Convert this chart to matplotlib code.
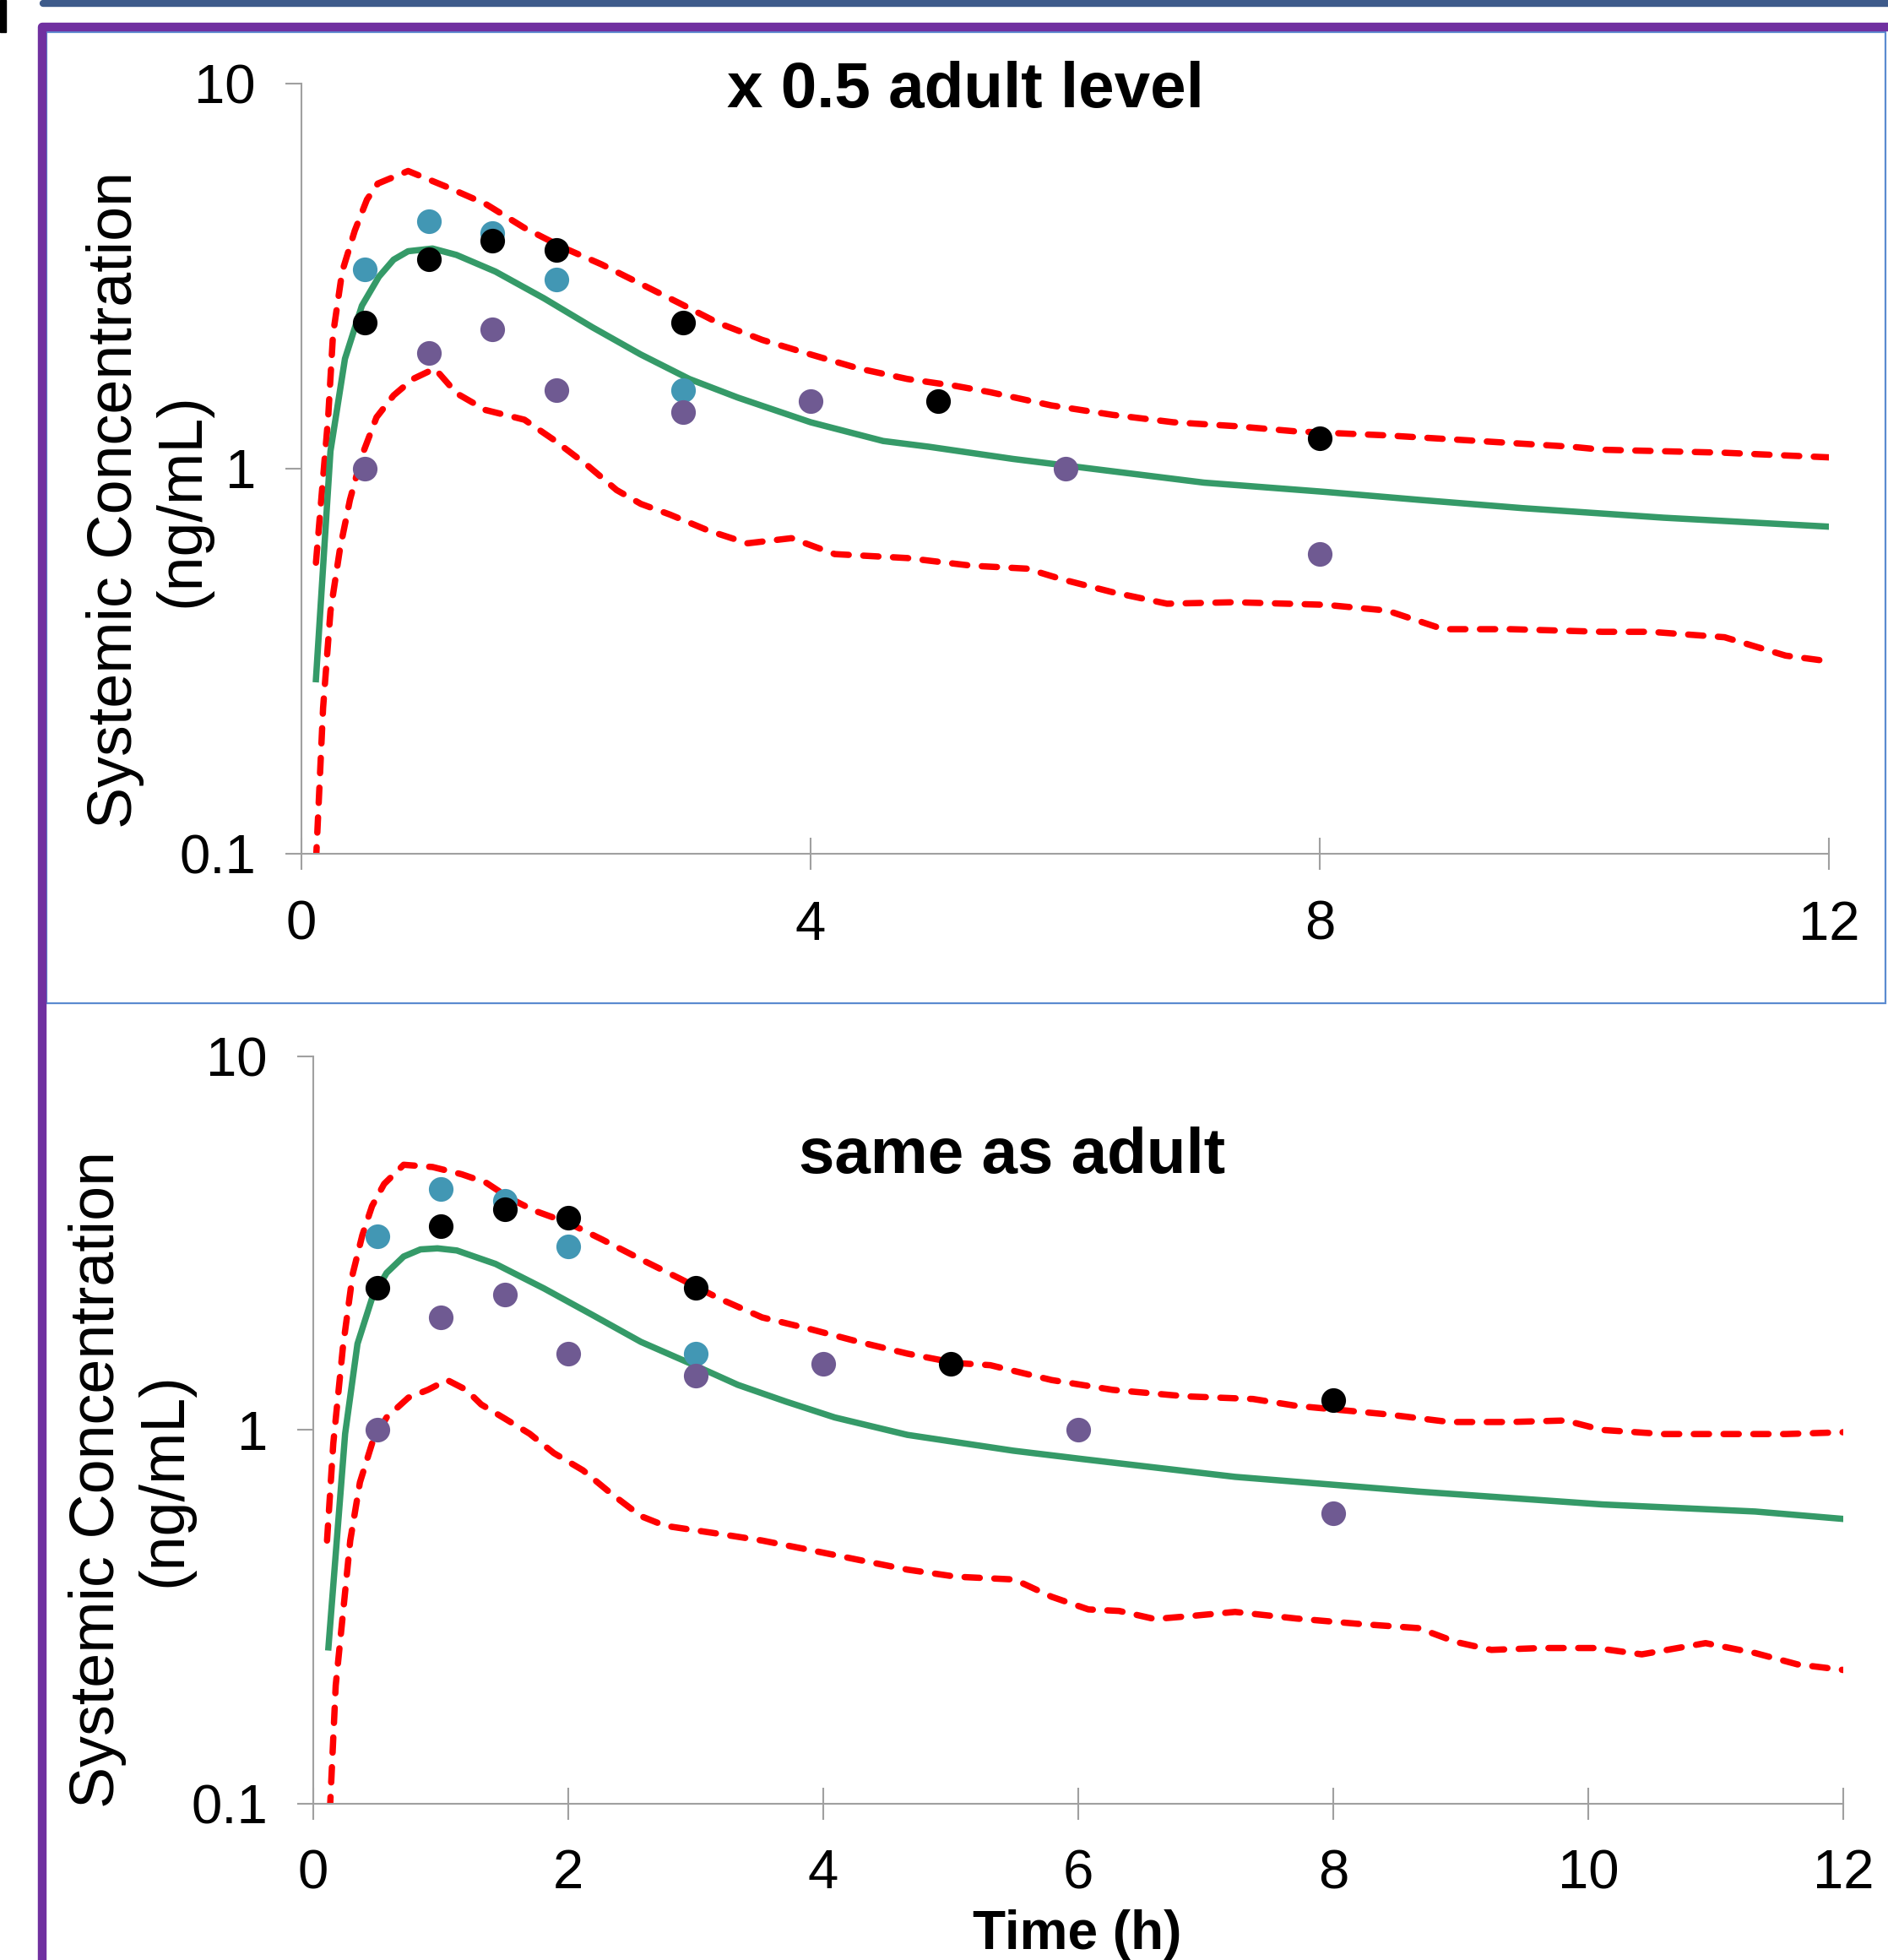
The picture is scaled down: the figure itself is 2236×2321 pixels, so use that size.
import matplotlib
matplotlib.use("Agg")
import matplotlib.pyplot as plt
from matplotlib.patches import Rectangle
from matplotlib.lines import Line2D

plt.rcParams['font.family'] = ['Liberation Sans', 'DejaVu Sans']

# ---------------- observed data (same in both panels) ----------------
teal_t = [0.5, 1, 1.5, 2, 3]
teal_c = [3.3, 4.4, 4.1, 3.1, 1.6]
black_t = [0.5, 1, 1.5, 2, 3, 5, 8]
black_c = [2.4, 3.5, 3.9, 3.7, 2.4, 1.5, 1.2]
purple_t = [0.5, 1, 1.5, 2, 3, 4, 6, 8]
purple_c = [1.0, 2.0, 2.3, 1.6, 1.4, 1.5, 1.0, 0.6]

# ---------------- top panel: x 0.5 adult level ----------------
top_mean_t = [0.114, 0.228, 0.342, 0.475, 0.608, 0.724, 0.838, 1.03, 1.218, 1.524, 1.905,
              2.285, 2.665, 3.047, 3.428, 4.0, 4.57, 4.93, 5.59, 7.09, 8.05, 8.78, 9.59,
              10.70, 12.0]
top_mean_c = [0.284, 1.11, 1.93, 2.65, 3.15, 3.49, 3.67, 3.73, 3.59, 3.25, 2.77,
              2.33, 1.98, 1.71, 1.53, 1.32, 1.18, 1.14, 1.06, 0.92, 0.87, 0.83, 0.79,
              0.746, 0.707]
top_hi_t = [0.114, 0.21, 0.248, 0.32, 0.419, 0.515, 0.60, 0.838, 1.143, 1.447, 1.752,
            2.057, 2.36, 2.665, 2.97, 3.275, 3.62, 4.0, 4.38, 4.76, 5.14, 5.41, 5.89,
            6.37, 6.85, 7.33, 7.81, 8.53, 9.25, 9.98, 10.22, 11.18, 12.0]
top_hi_c = [0.57, 1.36, 2.23, 3.25, 4.15, 5.0, 5.5, 5.93, 5.39, 4.87, 4.22,
            3.75, 3.39, 3.02, 2.69, 2.39, 2.16, 1.98, 1.82, 1.71, 1.64, 1.58, 1.46,
            1.38, 1.32, 1.29, 1.25, 1.22, 1.18, 1.14, 1.12, 1.10, 1.07]
top_lo_t = [0.114, 0.17, 0.228, 0.303, 0.381, 0.475, 0.59, 0.724, 0.876, 1.048, 1.218,
            1.447, 1.752, 1.98, 2.247, 2.476, 2.667, 2.895, 3.2, 3.505, 3.85, 4.19,
            4.76, 5.26, 5.70, 5.985, 6.37, 6.80, 7.33, 8.05, 8.53, 8.97, 9.50, 10.22,
            10.60, 11.18, 11.66, 12.0]
top_lo_c = [0.095, 0.239, 0.426, 0.62, 0.83, 1.08, 1.36, 1.55, 1.71, 1.82, 1.57,
            1.42, 1.34, 1.19, 1.02, 0.88, 0.81, 0.76, 0.69, 0.64, 0.66, 0.60,
            0.586, 0.56, 0.55, 0.515, 0.478, 0.446, 0.45, 0.443, 0.428, 0.383, 0.383, 0.377,
            0.377, 0.365, 0.327, 0.316]

# ---------------- bottom panel: same as adult ----------------
bot_mean_t = [0.119, 0.25, 0.347, 0.461, 0.575, 0.709, 0.841, 0.974, 1.126, 1.43, 1.81,
              2.19, 2.57, 2.95, 3.33, 3.71, 4.09, 4.66, 5.49, 6.03, 7.23, 8.67, 10.11,
              11.31, 12.0]
bot_mean_c = [0.262, 0.977, 1.70, 2.25, 2.63, 2.91, 3.04, 3.06, 3.02, 2.78, 2.39,
              2.03, 1.72, 1.51, 1.32, 1.19, 1.08, 0.97, 0.88, 0.836, 0.749, 0.684, 0.632,
              0.605, 0.578]
bot_hi_t = [0.108, 0.157, 0.233, 0.31, 0.385, 0.461, 0.556, 0.709, 0.936, 1.164, 1.354,
            1.544, 1.734, 2.0, 2.267, 2.57, 2.875, 3.18, 3.52, 3.90, 4.28, 4.66, 5.04,
            5.31, 5.79, 6.27, 6.84, 7.37, 7.71, 8.43, 8.91, 9.39, 9.82, 10.11, 10.59,
            11.16, 11.55, 12.0]
bot_hi_c = [0.506, 0.92, 1.67, 2.62, 3.32, 3.97, 4.55, 5.12, 5.05, 4.83, 4.59,
            4.16, 3.86, 3.58, 3.23, 2.86, 2.54, 2.25, 2.0, 1.86, 1.72, 1.60, 1.51,
            1.49, 1.36, 1.28, 1.23, 1.21, 1.16, 1.10, 1.05, 1.05, 1.06, 1.0, 0.975,
            0.975, 0.975, 0.986]
bot_lo_t = [0.13, 0.176, 0.233, 0.29, 0.366, 0.461, 0.575, 0.746, 0.899, 1.05, 1.20,
            1.317, 1.507, 1.697, 1.887, 2.115, 2.343, 2.57, 2.76, 3.14, 3.52, 3.90,
            4.28, 4.66, 5.04, 5.50, 5.79, 6.08, 6.32, 6.60, 6.89, 7.23, 7.71, 8.19,
            8.67, 8.96, 9.24, 9.63, 10.06, 10.42, 10.92, 11.31, 11.64, 12.0]
bot_lo_c = [0.095, 0.207, 0.323, 0.506, 0.724, 0.92, 1.08, 1.22, 1.28, 1.36, 1.28,
            1.17, 1.07, 0.977, 0.867, 0.78, 0.673, 0.588, 0.554, 0.53, 0.506, 0.477,
            0.449, 0.423, 0.405, 0.398, 0.358, 0.331, 0.328, 0.312, 0.318, 0.326, 0.313, 0.303,
            0.295, 0.271, 0.258, 0.261, 0.261, 0.251, 0.269, 0.253, 0.236, 0.228]

top_xticks = [0, 4, 8, 12]
bot_xticks = [0, 2, 4, 6, 8, 10, 12]
yticks = [0.1, 1, 10]
ytick_labels = ["0.1", "1", "10"]
top_title = "x 0.5 adult level"
bot_title = "same as adult"
ylabel = "Systemic Concentration\n(ng/mL)"
xlabel = "Time (h)"

GREEN = '#359a68'
RED = '#ff0000'
TEAL = '#4297b4'
PURPLE = '#6f5a92'
AXC = '#a0a0a0'

W, H = 2236, 2321
fig = plt.figure(figsize=(W / 100, H / 100), dpi=100)

def fx(px):
    return px / W

def fy(py):
    return 1 - py / H

# decorative frames
fig.add_artist(Line2D([fx(51), fx(2236)], [fy(4), fy(4)], color='#3e5b8b', lw=6,
                      solid_capstyle='round', transform=fig.transFigure))
fig.add_artist(Rectangle((0, fy(38)), fx(7), 38 / H, color='black', transform=fig.transFigure))
fig.add_artist(Line2D([fx(49.5), fx(49.5), fx(2236)], [fy(2321), fy(32), fy(32)],
                      color='#7030a0', lw=7.5, solid_joinstyle='round',
                      transform=fig.transFigure))
fig.add_artist(Rectangle((fx(55), fy(1188)), fx(2233) - fx(55), fy(38) - fy(1188),
                         fill=False, edgecolor='#5b8bd0', lw=1.6, transform=fig.transFigure))


def make_panel(rect, mean_t, mean_c, hi_t, hi_c, lo_t, lo_c, xticks, title, title_xy,
               ylab_xy, xpad):
    ax = fig.add_axes(rect)
    ax.set_yscale('log')
    ax.set_xlim(0, 12)
    ax.set_ylim(0.1, 10)
    for s in ['top', 'right']:
        ax.spines[s].set_visible(False)
    for s in ['left', 'bottom']:
        ax.spines[s].set_color(AXC)
        ax.spines[s].set_linewidth(1.5)
    ax.plot(hi_t, hi_c, color=RED, lw=5.4, dashes=(2.4, 2.3), dash_capstyle='round', zorder=2)
    ax.plot(lo_t, lo_c, color=RED, lw=5.4, dashes=(2.4, 2.3), dash_capstyle='round', zorder=2)
    ax.plot(mean_t, mean_c, color=GREEN, lw=5.4, zorder=3)
    ax.plot(teal_t, teal_c, 'o', color=TEAL, ms=21, mew=0, zorder=4)
    ax.plot(purple_t, purple_c, 'o', color=PURPLE, ms=21, mew=0, zorder=4)
    ax.plot(black_t, black_c, 'o', color='black', ms=21, mew=0, zorder=5)
    ax.set_xticks(xticks)
    ax.set_xticklabels([str(v) for v in xticks])
    ax.set_yticks(yticks)
    ax.set_yticklabels(ytick_labels)
    ax.minorticks_off()
    ax.tick_params(axis='x', direction='inout', length=27, width=1.5, color=AXC,
                   labelsize=47, pad=xpad)
    ax.tick_params(axis='y', direction='out', length=14, width=1.5, color=AXC,
                   labelsize=47, pad=25)
    fig.text(fx(title_xy[0]), fy(title_xy[1]), title, fontsize=55, fontweight='bold',
             ha='center', va='center')
    fig.text(fx(ylab_xy[0]), fy(ylab_xy[1]), ylabel, fontsize=53, rotation=90,
             ha='center', va='center', multialignment='center', linespacing=1.2)
    return ax

make_panel([fx(357), fy(1011), fx(2166) - fx(357), fy(99) - fy(1011)],
           top_mean_t, top_mean_c, top_hi_t, top_hi_c, top_lo_t, top_lo_c,
           top_xticks, top_title, (1143, 108), (176, 592), 26)
make_panel([fx(371), fy(2136), fx(2183) - fx(371), fy(1250.6) - fy(2136)],
           bot_mean_t, bot_mean_c, bot_hi_t, bot_hi_c, bot_lo_t, bot_lo_c,
           bot_xticks, bot_title, (1199, 1370), (155, 1752), 25)

fig.text(fx(1276), fy(2308), xlabel, fontsize=46, fontweight='bold', ha='center',
         va='baseline')

fig.savefig('out.png', dpi=100)
